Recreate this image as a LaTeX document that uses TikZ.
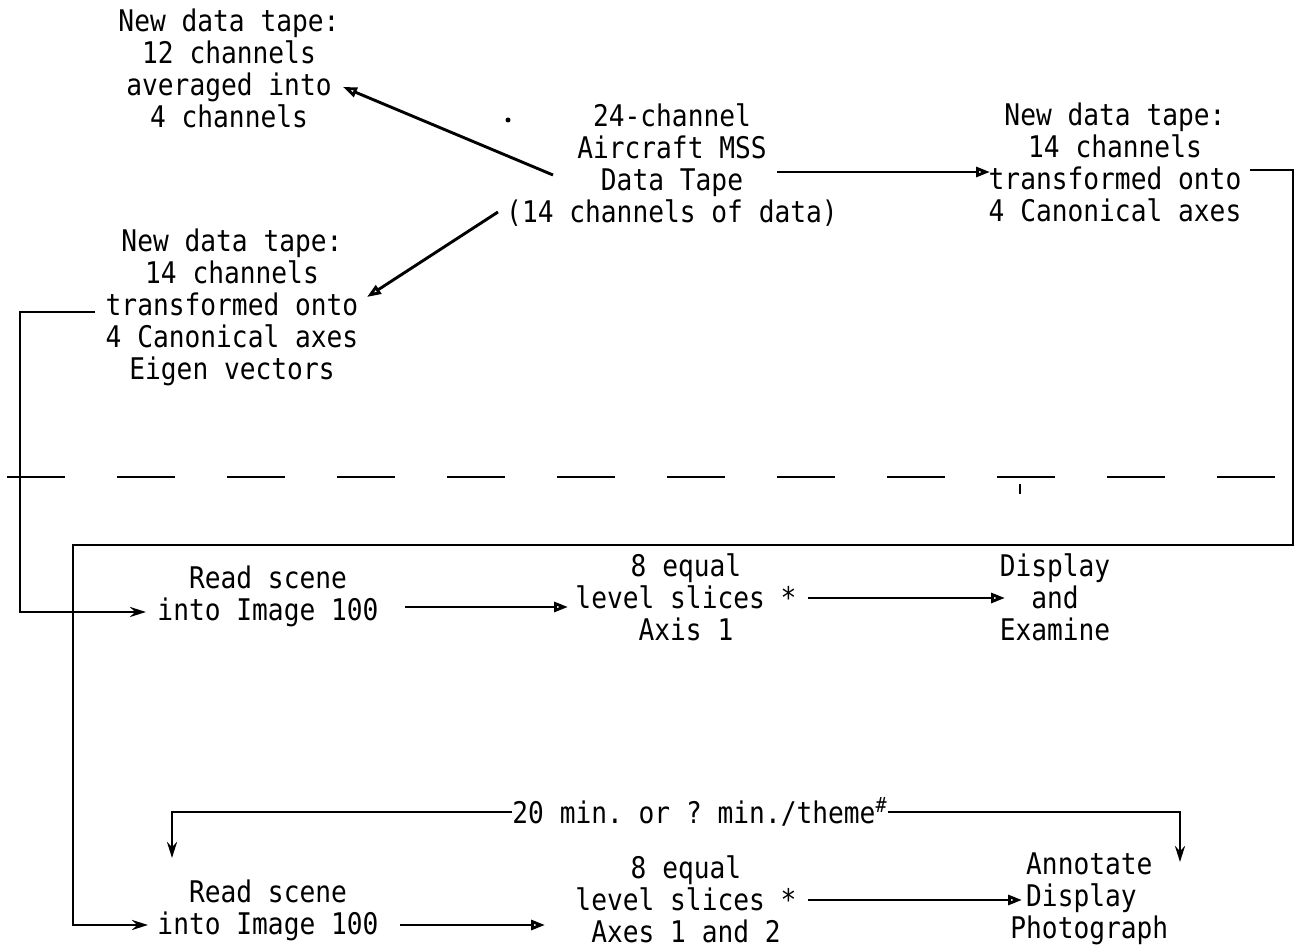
\documentclass[tikz,border=0pt]{standalone}
\usepackage{fontspec}
\setmonofont[FakeStretch=0.88]{DejaVu Sans Mono}
\usetikzlibrary{arrows.meta}
\begin{document}
\begin{tikzpicture}[x=0.5pt,y=-0.5pt,
  txt/.style={font=\ttfamily\fontsize{14.9}{16}\selectfont, align=center, inner sep=0pt},
  ln/.style={line width=1.45pt},
  arr/.style={ln, -{Triangle[open, length=7pt, width=5pt]}},
  arrf/.style={ln, -{Stealth[length=8pt, width=5pt]}},
  speck/.style={fill=black}
]
\useasboundingbox (0,0) rectangle (1297,951);

% nodes
\node[txt] (tl) at (229,68) {New data tape:\\12 channels\\averaged into\\4 channels};
\node[txt] (ctr) at (672,165) {24-channel\\Aircraft MSS\\Data Tape\\(14 channels of data)};
\node[txt] (tr) at (1115,162) {New data tape:\\14 channels\\transformed onto\\4 Canonical axes};
\node[txt] (lm) at (232,307) {New data tape:\\14 channels\\transformed onto\\4 Canonical axes\\Eigen vectors};
\node[txt] (r1a) at (268,596) {Read scene\\into Image 100};
\node[txt] (r1b) at (686,597) {8 equal\\level slices *\\Axis 1};
\node[txt] (r1c) at (1055,597) {Display\\and\\Examine};
\node[txt] (note) at (700,812) {20 min. or ? min./theme\textsuperscript{\#}};
\node[txt] (r2a) at (268,910) {Read scene\\into Image 100};
\node[txt] (r2b) at (686,899) {8 equal\\level slices *\\Axes 1 and 2};
\node[txt, align=left, anchor=west] (r2c) at (1010,899) {\ Annotate\\\ Display\\Photograph};

% specks
\fill[speck] (508,120) circle (2.5);
\draw[ln] (1020,484) -- (1020,494);

% top connectors
\draw[arr] ([shift={(-119,10)}]ctr.center) -- ([shift={(114,19)}]tl.center);
\draw[arr] ([shift={(-174,47)}]ctr.center) -- ([shift={(135,-10)}]lm.center);
\draw[arr] ([shift={(105,7)}]ctr.center) -- ([shift={(-125,10)}]tr.center);

% right loop down to second row
\draw[arrf] ([shift={(135,8)}]tr.center) -| (1293,545) -| (73,925) -- ([shift={(-120,15)}]r2a.center);

% left loop to first row
\draw[arrf] ([shift={(-137,5)}]lm.center) -| (20,612) -- ([shift={(-122,16)}]r1a.center);

% dashed separator
\draw[ln, dash pattern=on 29pt off 26pt, dash phase=-3.5pt] (0,477) -- (1297,477);

% row 1
\draw[arr] ([shift={(137,11)}]r1a.center) -- ([shift={(-118,10)}]r1b.center);
\draw[arr] ([shift={(122,1)}]r1b.center) -- ([shift={(-50,1)}]r1c.center);

% loop note
\draw[arrf] (note.west) -| (172,858);
\draw[arrf] (note.east) -| (1180,862);

% row 2
\draw[arr] ([shift={(132,15)}]r2a.center) -- ([shift={(-141,26)}]r2b.center);
\draw[arr] ([shift={(122,1)}]r2b.center) -- ([shift={(12,1)}]r2c.west);
\end{tikzpicture}
\end{document}
